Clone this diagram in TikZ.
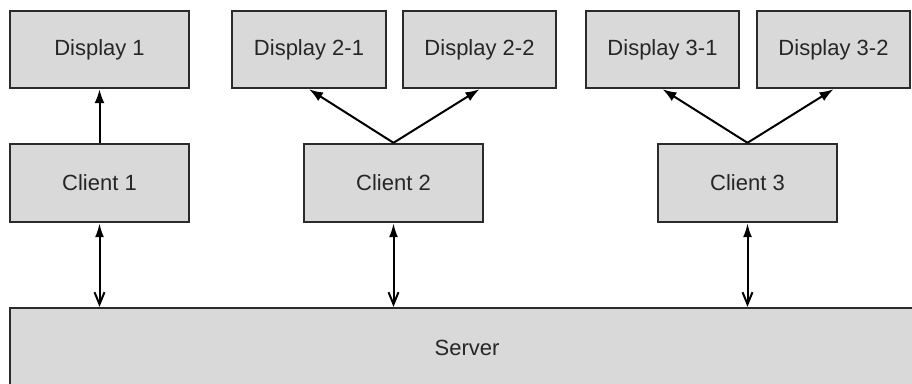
\documentclass[tikz,border=0pt]{standalone}
\usepackage{fontspec}
\setmainfont{Liberation Sans}
\usetikzlibrary{arrows.meta}
\definecolor{boxfill}{HTML}{D9D9D9}
\definecolor{boxline}{HTML}{2B2B2B}
\tikzset{
  box/.style={draw=boxline, fill=boxfill, line width=2.4pt, inner sep=0pt,
    font=\fontsize{22}{26}\selectfont, text=black!85},
  conn/.style={line width=2pt, draw=black, -{Latex[length=14pt,width=10pt]}},
  bidir/.style={line width=2pt, draw=black,
    {Latex[length=14pt,width=9pt]}-{Straight Barb[length=12pt,width=10pt]}}
}
\begin{document}
\begin{tikzpicture}[x=1pt,y=-1pt]
\useasboundingbox (0,0) rectangle (912,383);
\clip (0,0) rectangle (912,383);
% displays
\node[box, minimum width=179pt, minimum height=77pt] (d1) at (99.5,49.5) {Display 1};
\node[box, minimum width=154pt, minimum height=77pt] (d21) at (309,49.5) {Display 2-1};
\node[box, minimum width=153pt, minimum height=77pt] (d22) at (479.5,49.5) {Display 2-2};
\node[box, minimum width=153pt, minimum height=77pt] (d31) at (662.5,49.5) {Display 3-1};
\node[box, minimum width=153pt, minimum height=77pt] (d32) at (833.5,49.5) {Display 3-2};
% clients
\node[box, minimum width=179pt, minimum height=78pt] (c1) at (99.5,183) {Client 1};
\node[box, minimum width=179pt, minimum height=78pt] (c2) at (393.5,183) {Client 2};
\node[box, minimum width=179pt, minimum height=78pt] (c3) at (747.5,183) {Client 3};
% server
\node[box, minimum width=914pt, minimum height=80pt] (srv) at (467,348) {Server};
% client -> display
\draw[conn] (c1.north) -- (d1.south);
\draw[conn] (c2.north) -- (d21.south);
\draw[conn] (c2.north) -- (d22.south);
\draw[conn] (c3.north) -- (d31.south);
\draw[conn] (c3.north) -- (d32.south);
% client <-> server
\draw[bidir] (c1.south) -- (c1.south |- srv.north);
\draw[bidir] (c2.south) -- (c2.south |- srv.north);
\draw[bidir] (c3.south) -- (c3.south |- srv.north);
\end{tikzpicture}
\end{document}
